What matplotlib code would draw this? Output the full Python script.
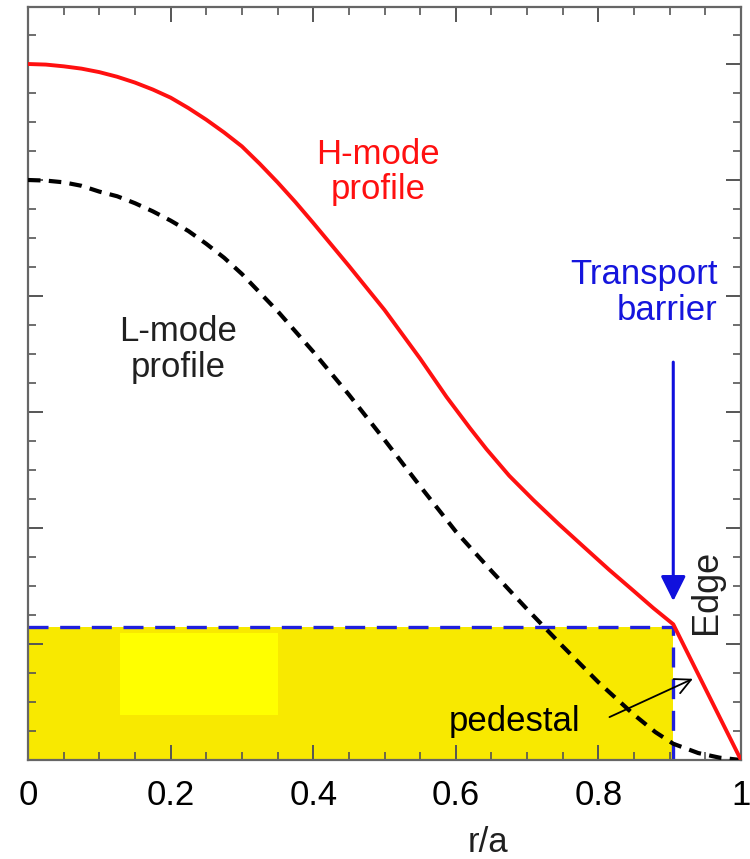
import numpy as np
import matplotlib
matplotlib.use("Agg")
import matplotlib.pyplot as plt
from matplotlib.ticker import MultipleLocator

plt.rcParams['font.family'] = ['Liberation Sans', 'DejaVu Sans']

# ------------------------------------------------
# Profiles (x = r/a, y in arbitrary units)
# ------------------------------------------------
h_x = [0.0, 0.025, 0.05, 0.075, 0.10, 0.125, 0.15, 0.175, 0.20, 0.225, 0.25,
       0.275, 0.30, 0.325, 0.35, 0.375, 0.40, 0.45, 0.50, 0.55, 0.587,
       0.62, 0.643, 0.675, 0.709, 0.745, 0.779, 0.815, 0.849, 0.877,
       0.895, 0.905, 1.0]
h_y = [6.0, 5.995, 5.98, 5.96, 5.93, 5.89, 5.84, 5.78, 5.71, 5.62, 5.52,
       5.41, 5.29, 5.14, 4.98, 4.81, 4.63, 4.26, 3.88, 3.46, 3.13,
       2.86, 2.68, 2.45, 2.24, 2.03, 1.84, 1.64, 1.46, 1.31,
       1.22, 1.17, 0.0]

l_x = [0.0, 0.025, 0.05, 0.075, 0.10, 0.125, 0.15, 0.175, 0.20, 0.225, 0.25,
       0.275, 0.30, 0.35, 0.40, 0.45, 0.50, 0.55, 0.60, 0.65, 0.70, 0.75,
       0.80, 0.85, 0.88, 0.905, 0.94, 0.97, 1.0]
l_y = [5.0, 4.995, 4.98, 4.95, 4.90, 4.86, 4.80, 4.73, 4.65, 4.56, 4.45,
       4.33, 4.19, 3.87, 3.52, 3.15, 2.76, 2.36, 1.97, 1.63, 1.30, 0.98,
       0.67, 0.39, 0.24, 0.14, 0.06, 0.02, 0.0]

ped_x = 0.905       # position of the transport barrier
ped_h = 1.15        # pedestal height

xtick_pos = [0, 0.2, 0.4, 0.6, 0.8, 1.0]
xtick_lab = ['0', '0.2', '0.4', '0.6', '0.8', '1']

fig = plt.figure(figsize=(7.5, 8.59), dpi=100)
ax = fig.add_axes([28 / 750, 99 / 859, 713 / 750, 753 / 859])
ax.set_xlim(0, 1)
ax.set_ylim(0, 753 / 116)

# pedestal box
ax.fill_between([0, ped_x], 0, ped_h, color='#f8e900', lw=0, zorder=1)
ax.fill_between([0.129, 0.351], 0.388, 1.095, color='#ffff00', lw=0, zorder=1)
ax.plot([0, ped_x, ped_x], [ped_h, ped_h, 0], color='#2020dd', lw=2.4,
        dashes=(6, 3.5), zorder=2)

ax.plot(l_x, l_y, color='black', lw=3, dashes=(3, 2), zorder=3)
ax.plot(h_x, h_y, color='#ff1010', lw=2.8, zorder=4)

# annotations
ax.text(0.491, 5.07, 'H-mode\nprofile', color='#ff1010', fontsize=25,
        ha='center', va='center', linespacing=1.1)
ax.text(0.21, 3.54, 'L-mode\nprofile', color='#202020', fontsize=25,
        ha='center', va='center', linespacing=1.1)
ax.text(0.967, 4.03, 'Transport\nbarrier', color='#1515dd', fontsize=25,
        ha='right', va='center', linespacing=1.1)
ax.text(0.952, 1.45, 'Edge', color='#202020', fontsize=26, rotation=90,
        ha='center', va='center')
ax.text(0.683, 0.33, 'pedestal', color='black', fontsize=25,
        ha='center', va='center')
ax.annotate('', xy=(0.936, 0.71), xytext=(0.812, 0.36),
            arrowprops=dict(arrowstyle='->', color='black', lw=1.3,
                            mutation_scale=28))
ax.annotate('', xy=(ped_x, 1.37), xytext=(ped_x, 3.43),
            arrowprops=dict(arrowstyle='-|>', color='#1010dd', lw=2.2,
                            mutation_scale=38, shrinkA=0, shrinkB=0))

# axes styling
for sp in ax.spines.values():
    sp.set_color('#666666')
    sp.set_linewidth(1.6)
ax.set_xticks(xtick_pos)
ax.set_xticklabels(xtick_lab)
ax.xaxis.set_minor_locator(MultipleLocator(0.05))
ax.yaxis.set_major_locator(MultipleLocator(1))
ax.yaxis.set_minor_locator(MultipleLocator(0.25))
ax.tick_params(which='both', direction='in', top=True, right=True,
               color='#555555', labelsize=25, labelleft=False)
ax.tick_params(which='major', length=11, width=1.4, pad=14)
ax.tick_params(which='minor', length=6, width=1.2)
ax.set_xlabel('r/a', fontsize=25, color='#202020')
ax.xaxis.set_label_coords(0.645, -0.088)

fig.savefig('out.png', dpi=100)
